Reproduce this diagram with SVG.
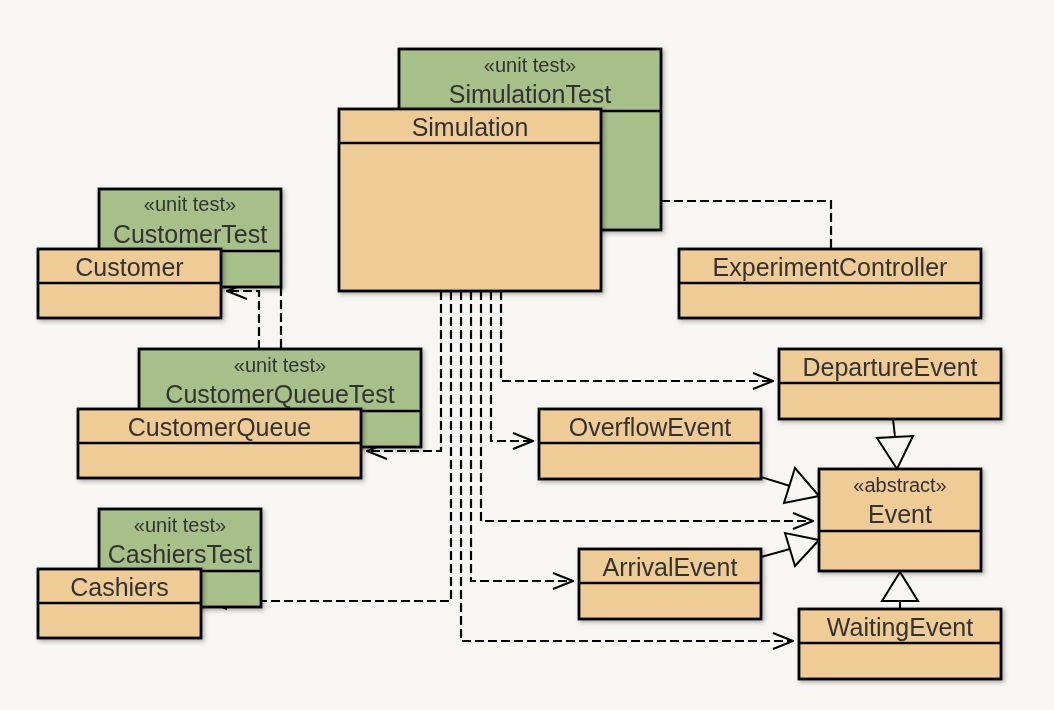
<svg xmlns="http://www.w3.org/2000/svg" width="1054" height="710" viewBox="0 0 1054 710">
<defs>
<style>
.o{fill:#efcb95;stroke:#000;stroke-width:2.8}
.g{fill:#a7bf89;stroke:#000;stroke-width:2.8}
.dv{stroke:#000;stroke-width:2.5}
.n{font-family:"Liberation Sans",Arial,sans-serif;font-size:25px;fill:#333;text-anchor:middle}
.s{font-size:20px}
.d{fill:none;stroke:#000;stroke-width:2.2;stroke-dasharray:9 4}
.l{fill:none;stroke:#000;stroke-width:2}
.t{fill:#f7f6f2;stroke:#000;stroke-width:2;stroke-linejoin:miter}
.sh{filter:url(#shadow)}
</style>
<filter id="shadow" x="-10%" y="-10%" width="130%" height="130%">
<feDropShadow dx="2" dy="2" stdDeviation="2" flood-color="#000" flood-opacity="0.3"/>
</filter>
<marker id="dep" markerUnits="userSpaceOnUse" viewBox="0 0 22 18" refX="21" refY="9" markerWidth="22" markerHeight="18" orient="auto">
<path d="M1,1 L21,9 L1,17" fill="none" stroke="#000" stroke-width="2"/>
</marker>
</defs>
<rect x="0" y="0" width="1054" height="710" fill="#f7f6f2"/>

<g id="connectors">
<path class="d" d="M661,201 H831 V249"/>
<path class="d" d="M501,291 V381 H773" marker-end="url(#dep)"/>
<path class="d" d="M491,291 V441 H533" marker-end="url(#dep)"/>
<path class="d" d="M481,291 V521 H813" marker-end="url(#dep)"/>
<path class="d" d="M471,291 V581 H573" marker-end="url(#dep)"/>
<path class="d" d="M461,291 V641 H793" marker-end="url(#dep)"/>
<path class="d" d="M451,291 V601 H207" marker-end="url(#dep)"/>
<path class="d" d="M441,291 V451 H367" marker-end="url(#dep)"/>
<path class="d" d="M259,349 V291 H227" marker-end="url(#dep)"/>
<path class="d" d="M281,287 V349"/>
<path class="l" d="M893,419 L895,437"/>
<polygon class="t" points="897,469 877,438 913,436"/>
<path class="l" d="M761,477 L790,486"/>
<polygon class="t" points="819,496 795,468 784,503"/>
<path class="l" d="M761,557 L790,549"/>
<polygon class="t" points="819,540 785,533 795,566"/>
<path class="l" d="M900,609 L900,601"/>
<polygon class="t" points="900,572 882,601 918,601"/>
</g>

<g id="SimulationTest" class="sh">
<rect class="g" x="399" y="49" width="262" height="181"/>
<line class="dv" x1="399" y1="111" x2="661" y2="111"/>
<text class="n s" x="530" y="72">«unit test»</text>
<text class="n" x="530" y="103">SimulationTest</text>
</g>
<g id="Simulation" class="sh">
<rect class="o" x="339" y="109" width="262" height="182"/>
<line class="dv" x1="339" y1="143" x2="601" y2="143"/>
<text class="n" x="470" y="136">Simulation</text>
</g>
<g id="CustomerTest" class="sh">
<rect class="g" x="99" y="189" width="182" height="98"/>
<line class="dv" x1="99" y1="251" x2="281" y2="251"/>
<text class="n s" x="190" y="211">«unit test»</text>
<text class="n" x="190" y="243">CustomerTest</text>
</g>
<g id="Customer" class="sh">
<rect class="o" x="38" y="249" width="183" height="69"/>
<line class="dv" x1="38" y1="283" x2="221" y2="283"/>
<text class="n" x="129.5" y="276">Customer</text>
</g>
<g id="CustomerQueueTest" class="sh">
<rect class="g" x="139" y="349" width="282" height="98"/>
<line class="dv" x1="139" y1="411" x2="421" y2="411"/>
<text class="n s" x="280" y="372">«unit test»</text>
<text class="n" x="280" y="403">CustomerQueueTest</text>
</g>
<g id="CustomerQueue" class="sh">
<rect class="o" x="78" y="409" width="283" height="69"/>
<line class="dv" x1="78" y1="443" x2="361" y2="443"/>
<text class="n" x="219.5" y="436">CustomerQueue</text>
</g>
<g id="CashiersTest" class="sh">
<rect class="g" x="99" y="509" width="162" height="98"/>
<line class="dv" x1="99" y1="571" x2="261" y2="571"/>
<text class="n s" x="180" y="532">«unit test»</text>
<text class="n" x="180" y="563">CashiersTest</text>
</g>
<g id="Cashiers" class="sh">
<rect class="o" x="38" y="569" width="163" height="69"/>
<line class="dv" x1="38" y1="603" x2="201" y2="603"/>
<text class="n" x="119.5" y="596">Cashiers</text>
</g>
<g id="ExperimentController" class="sh">
<rect class="o" x="679" y="249" width="302" height="69"/>
<line class="dv" x1="679" y1="283" x2="981" y2="283"/>
<text class="n" x="830" y="276">ExperimentController</text>
</g>
<g id="DepartureEvent" class="sh">
<rect class="o" x="779" y="349" width="222" height="70"/>
<line class="dv" x1="779" y1="383" x2="1001" y2="383"/>
<text class="n" x="890" y="376">DepartureEvent</text>
</g>
<g id="OverflowEvent" class="sh">
<rect class="o" x="539" y="409" width="222" height="70"/>
<line class="dv" x1="539" y1="443" x2="761" y2="443"/>
<text class="n" x="650" y="436">OverflowEvent</text>
</g>
<g id="ArrivalEvent" class="sh">
<rect class="o" x="579" y="549" width="182" height="70"/>
<line class="dv" x1="579" y1="583" x2="761" y2="583"/>
<text class="n" x="670" y="576">ArrivalEvent</text>
</g>
<g id="Event" class="sh">
<rect class="o" x="819" y="469" width="162" height="102"/>
<line class="dv" x1="819" y1="531" x2="981" y2="531"/>
<text class="n s" x="900" y="492">«abstract»</text>
<text class="n" x="900" y="523">Event</text>
</g>
<g id="WaitingEvent" class="sh">
<rect class="o" x="799" y="609" width="202" height="70"/>
<line class="dv" x1="799" y1="643" x2="1001" y2="643"/>
<text class="n" x="900" y="636">WaitingEvent</text>
</g>
</svg>
